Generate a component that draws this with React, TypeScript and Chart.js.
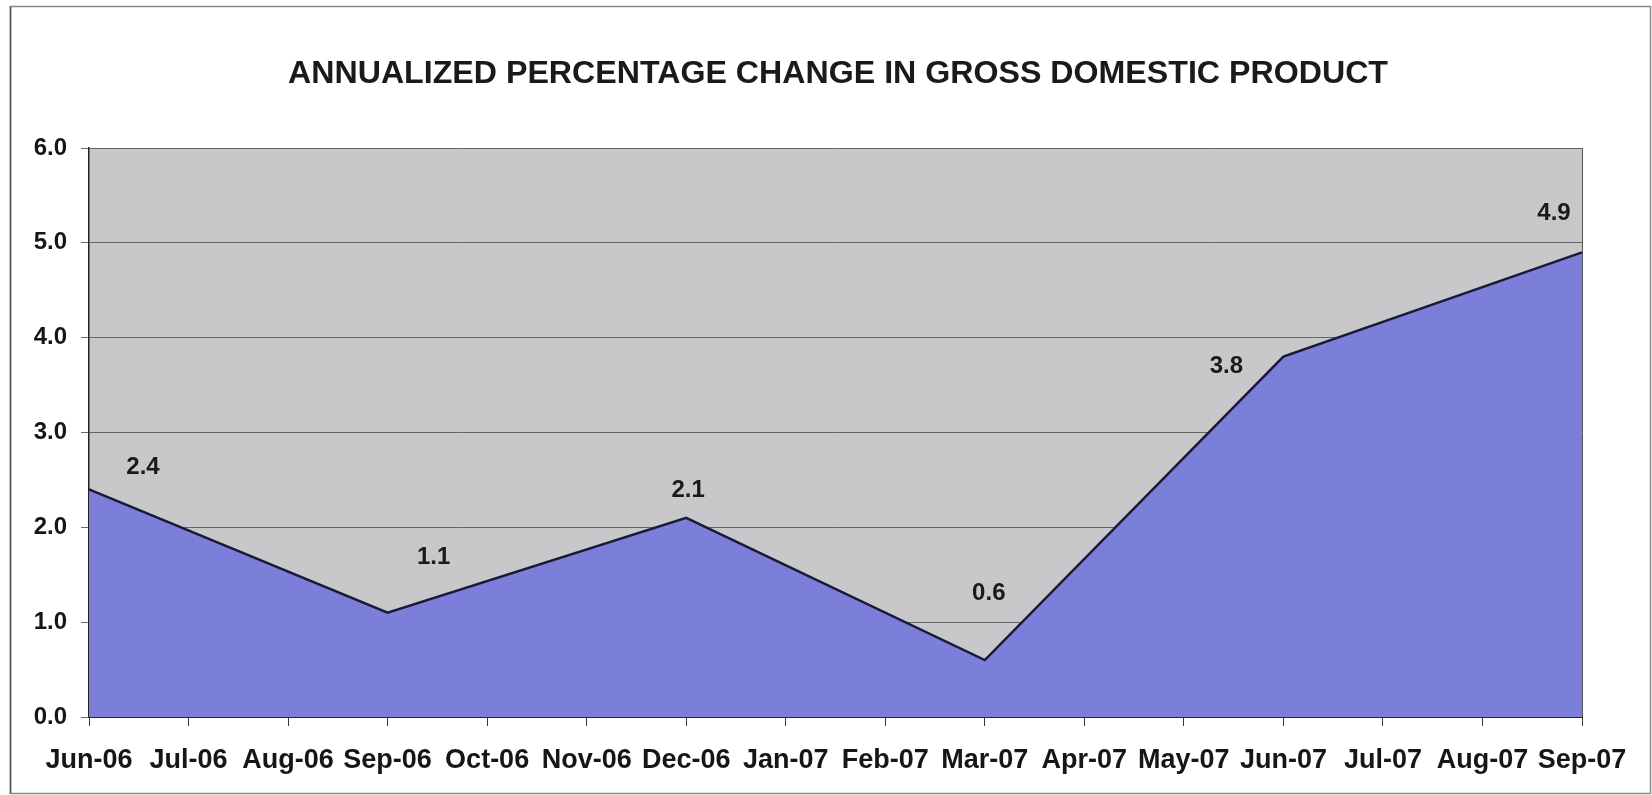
import React, { useEffect, useRef } from "react";
import { Chart, registerables } from "chart.js";

Chart.register(...registerables);

const TITLE = "ANNUALIZED PERCENTAGE CHANGE IN GROSS DOMESTIC PRODUCT";
const categories = [
  "Jun-06", "Jul-06", "Aug-06", "Sep-06", "Oct-06", "Nov-06", "Dec-06", "Jan-07",
  "Feb-07", "Mar-07", "Apr-07", "May-07", "Jun-07", "Jul-07", "Aug-07", "Sep-07",
];
const quarters = ["Jun-06", "Sep-06", "Dec-06", "Mar-07", "Jun-07", "Sep-07"];
const gdpChange = [2.4, 1.1, 2.1, 0.6, 3.8, 4.9];
const yMin = 0;
const yMax = 6;
const yStep = 1;

// label placement relative to each point (px)
const labelShift = [
  [54, -22],
  [46, -55],
  [2, -27],
  [4, -67],
  [-57, 10],
  [-28, -39],
];

const FONT = "'Liberation Sans', Arial, sans-serif";

const framePlugin = {
  id: "frame",
  beforeDraw(chart: any) {
    const { ctx, chartArea, width, height } = chart;
    ctx.save();
    ctx.fillStyle = "#ffffff";
    ctx.fillRect(0, 0, width, height);
    ctx.strokeStyle = "#8a8a8a";
    ctx.lineWidth = 1.5;
    ctx.strokeRect(10.5, 6.5, 1640, 787);
    ctx.strokeStyle = "#555555";
    ctx.beginPath();
    ctx.moveTo(10.5, 6.5);
    ctx.lineTo(10.5, 793.5);
    ctx.stroke();
    ctx.fillStyle = "#c8c8ca";
    ctx.fillRect(chartArea.left, chartArea.top, chartArea.right - chartArea.left, chartArea.bottom - chartArea.top);
    ctx.restore();
  },
  afterDraw(chart: any) {
    const { ctx, chartArea } = chart;
    ctx.save();
    ctx.strokeStyle = "#555555";
    ctx.lineWidth = 1;
    ctx.beginPath();
    ctx.moveTo(chartArea.right + 0.5, chartArea.top);
    ctx.lineTo(chartArea.right + 0.5, chartArea.bottom);
    ctx.stroke();
    // title
    ctx.fillStyle = "#1a1a1a";
    ctx.font = `bold 31px ${FONT}`;
    ctx.textAlign = "center";
    ctx.textBaseline = "alphabetic";
    const w = ctx.measureText(TITLE).width;
    const sx = 1100 / w;
    ctx.translate(838, 83);
    ctx.scale(sx, 1);
    ctx.fillText(TITLE, 0, 0);
    ctx.restore();
  },
};

const labelPlugin = {
  id: "pointLabels",
  afterDatasetsDraw(chart: any) {
    const { ctx } = chart;
    const meta = chart.getDatasetMeta(0);
    ctx.save();
    ctx.fillStyle = "#1a1a1a";
    ctx.font = `bold 24px ${FONT}`;
    ctx.textAlign = "center";
    ctx.textBaseline = "middle";
    meta.data.forEach((pt: any, i: number) => {
      const [dx, dy] = labelShift[i];
      ctx.fillText(gdpChange[i].toFixed(1), pt.x + dx, pt.y + dy);
    });
    ctx.restore();
  },
};

export default function App() {
  const ref = useRef<HTMLCanvasElement>(null);
  useEffect(() => {
    document.body.style.margin = "0";
    const chart = new Chart(ref.current!, {
      type: "line",
      data: {
        labels: categories,
        datasets: [
          {
            data: quarters.map((q, i) => ({ x: q, y: gdpChange[i] })) as any,
            fill: "origin",
            backgroundColor: "#7b7fd9",
            borderColor: "#1a1a38",
            borderWidth: 2.5,
            pointRadius: 0,
            tension: 0,
          },
        ],
      },
      options: {
        animation: false,
        responsive: false,
        layout: { padding: { top: 148, left: 14, right: 70, bottom: 0 } },
        plugins: { legend: { display: false }, tooltip: { enabled: false }, title: { display: false } },
        scales: {
          x: {
            type: "category",
            offset: false,
            afterFit: (s: any) => { s.height = 78; },
            grid: { drawOnChartArea: false, drawTicks: true, tickLength: 9, color: "#333333" },
            border: { display: true, color: "#222244", width: 2 },
            ticks: {
              autoSkip: false,
              maxRotation: 0,
              padding: 18,
              color: "#161616",
              font: { family: FONT, size: 27, weight: "bold" },
            },
          },
          y: {
            min: yMin,
            max: yMax,
            afterFit: (s: any) => { s.width = 75; },
            grid: { color: "#666666", lineWidth: 1, drawTicks: true, tickLength: 8 },
            border: { display: true, color: "#222222", width: 1.5 },
            ticks: {
              stepSize: yStep,
              padding: 14,
              color: "#161616",
              font: { family: FONT, size: 24, weight: "bold" },
              callback: (v: any) => Number(v).toFixed(1),
            },
          },
        },
      },
      plugins: [framePlugin, labelPlugin],
    });
    return () => chart.destroy();
  }, []);
  return (
    <div style={{ width: 1652, height: 795 }}>
      <canvas ref={ref} width={1652} height={795} style={{ display: "block" }} />
    </div>
  );
}
